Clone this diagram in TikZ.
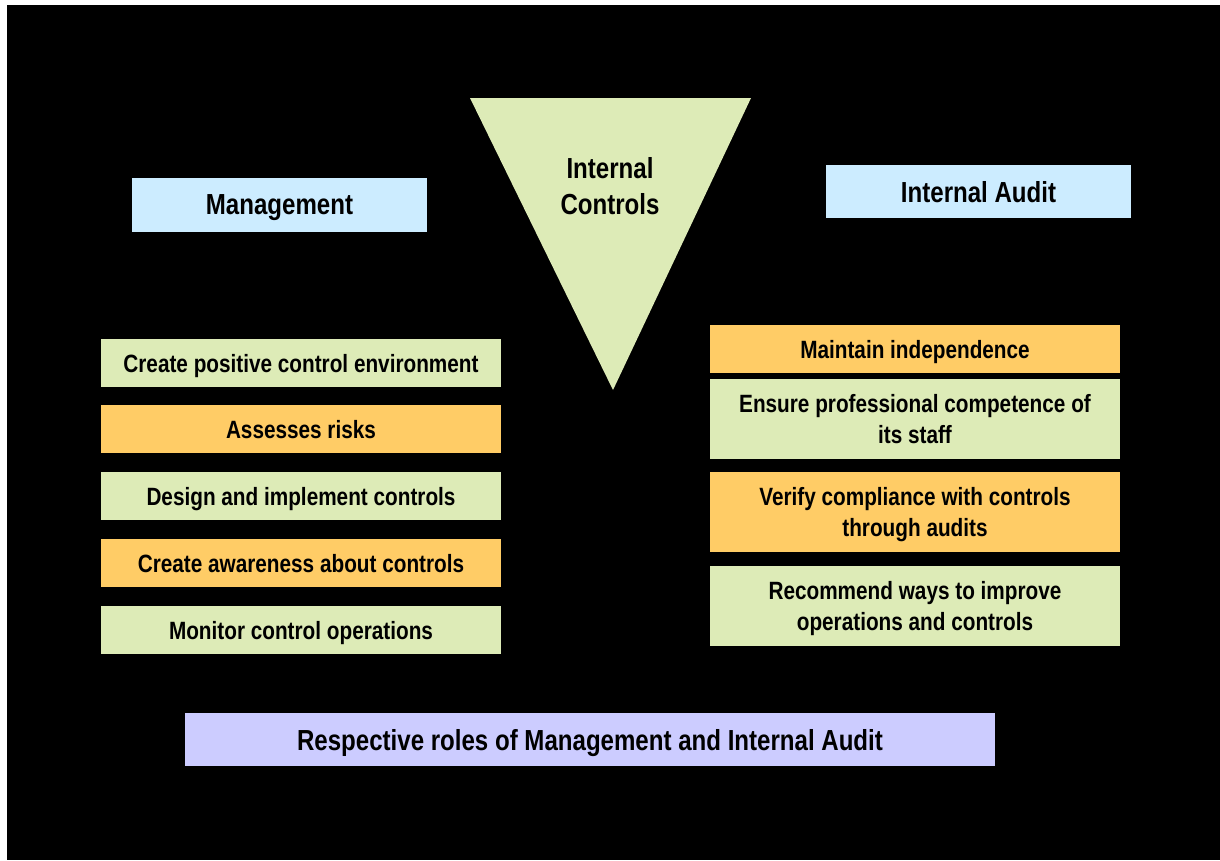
\documentclass[tikz,border=0pt]{standalone}
\usepackage{fontspec}
\setmainfont{Liberation Sans}[FakeStretch=0.83]
\usetikzlibrary{positioning}

\definecolor{paleblue}{HTML}{CCECFF}
\definecolor{palegreen}{HTML}{DDEBB7}
\definecolor{paleorange}{HTML}{FFCC66}
\definecolor{lavender}{HTML}{CCCCFF}

\tikzset{
  rolebox/.style={inner sep=0pt, text depth=0pt, align=center, font=\bfseries\fontsize{25}{31}\selectfont},
  headbox/.style={inner sep=0pt, text depth=0pt, fill=paleblue, font=\bfseries\fontsize{29}{35}\selectfont},
  greenbox/.style={rolebox, fill=palegreen},
  orangebox/.style={rolebox, fill=paleorange},
  leftcol/.style={minimum width=400pt, minimum height=48pt},
  rightcol/.style={minimum width=410pt, minimum height=#1},
  rightcol/.default=80pt
}

\begin{document}
\begin{tikzpicture}[x=1pt,y=-1pt]

% page and black backdrop
\useasboundingbox (0,0) rectangle (1220,860);
\fill[white] (0,0) rectangle (1220,860);
\fill[black] (7,5) rectangle (1220,860);

% the funnel in the middle
\fill[palegreen] (470,98) -- (751,98) -- (613,390) -- cycle;
\node[align=center, font=\bfseries\fontsize{29}{36}\selectfont] (controls) at (610,186) {Internal\\Controls};

% headings
\node[headbox, minimum width=295pt, minimum height=54pt] (mgmt) at (279.5,205) {Management};
\node[headbox, minimum width=305pt, minimum height=53pt] (audit) at (978.5,191.5) {Internal Audit};

% management column
\node[greenbox, leftcol] (m1) at (301,363) {Create positive control environment};
\node[orangebox, leftcol] (m2) at (301,429) {Assesses risks};
\node[greenbox, leftcol] (m3) at (301,496) {Design and implement controls};
\node[orangebox, leftcol] (m4) at (301,563) {Create awareness about controls};
\node[greenbox, leftcol] (m5) at (301,630) {Monitor control operations};

% internal audit column
\node[orangebox, rightcol=48pt] (a1) at (915,349) {Maintain independence};
\node[greenbox, rightcol] (a2) at (915,419) {Ensure professional competence of\\its staff};
\node[orangebox, rightcol] (a3) at (915,512) {Verify compliance with controls\\through audits};
\node[greenbox, rightcol] (a4) at (915,606) {Recommend ways to improve\\operations and controls};

% caption
\node[inner sep=0pt, text depth=0pt, fill=lavender, minimum width=810pt, minimum height=53pt,
      font=\bfseries\fontsize{29}{35}\selectfont] (title) at (590,739.5)
      {Respective roles of Management and Internal Audit};

\end{tikzpicture}
\end{document}
